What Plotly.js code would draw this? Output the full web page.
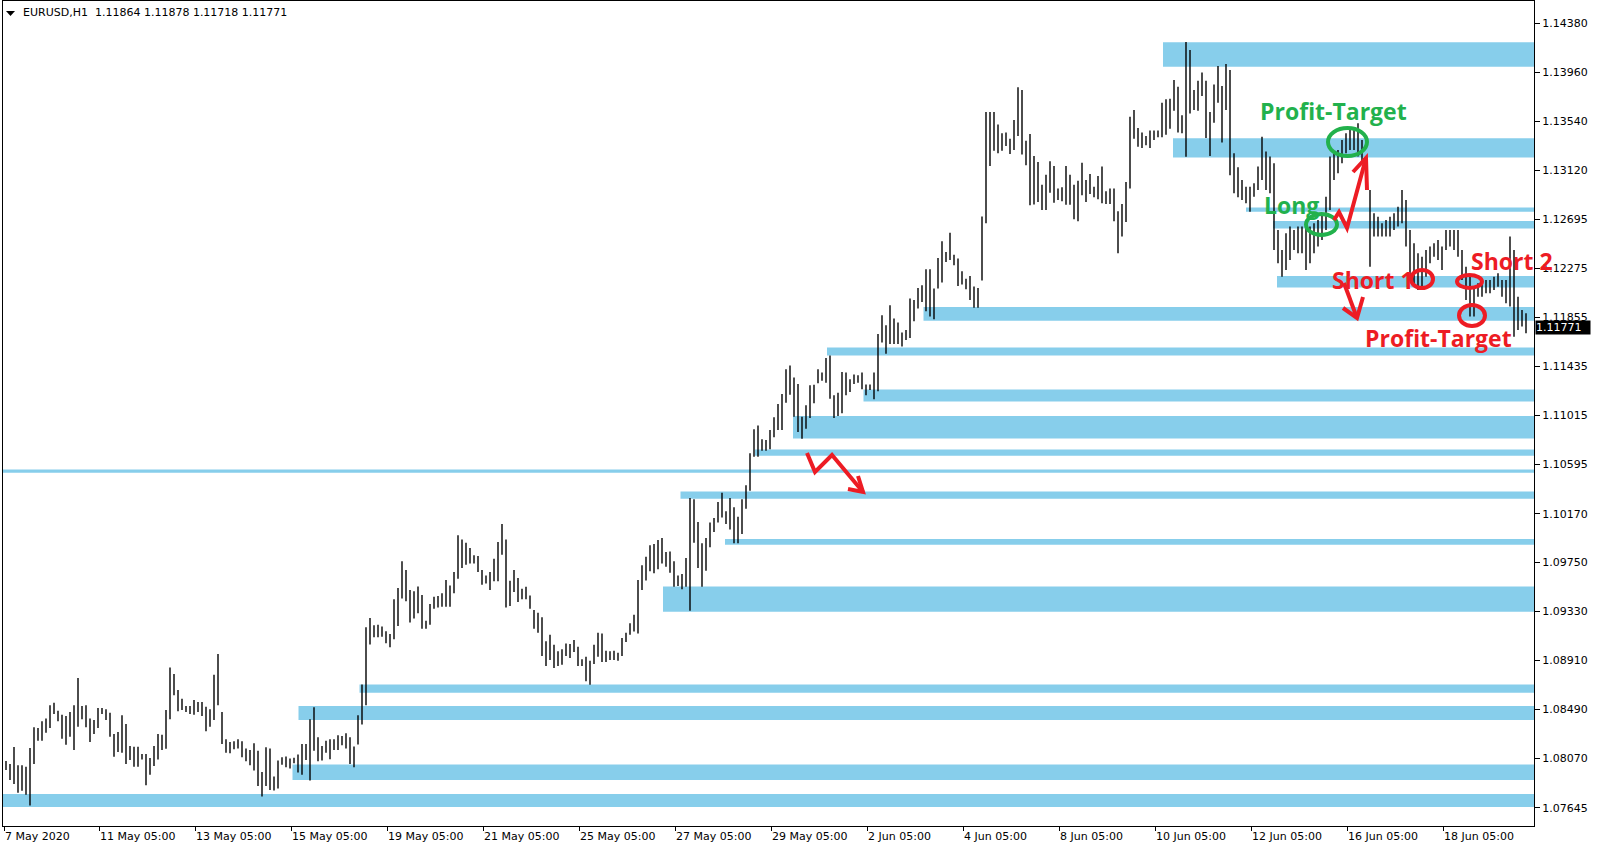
<!DOCTYPE html>
<html><head><meta charset="utf-8">
<script src="https://cdn.plot.ly/plotly-3.0.1.min.js"></script>
<style>html,body{margin:0;padding:0;background:#fff;}#chart{width:1597px;height:850px;}</style>
</head><body><div id="chart"></div>
<script>
// EURUSD H1, read as 2-hour high/low pairs (bar index = hour count from first bar)
const highs = [
1.08046,1.08020,1.08166,1.08009,1.08009,1.07997,1.08158,1.08335,1.08329,1.08387,
1.08410,1.08524,1.08547,1.08478,1.08444,1.08432,1.08467,1.08524,1.08759,1.08518,
1.08524,1.08410,1.08398,1.08501,1.08501,1.08490,1.08461,1.08278,1.08295,1.08438,
1.08364,1.08175,1.08169,1.08169,1.08106,1.08106,1.08072,1.08175,1.08278,1.08272,
1.08484,1.08850,1.08793,1.08656,1.08581,1.08518,1.08518,1.08570,1.08553,1.08553,
1.08513,1.08490,1.08787,1.08965,1.08467,1.08233,1.08210,1.08216,1.08233,1.08216,
1.08153,1.08141,1.08198,1.08135,1.07952,1.08164,1.08153,1.07912,1.08050,1.08078,
1.08084,1.08067,1.08073,1.08101,1.08193,1.08193,1.08405,1.08508,1.08250,1.08176,
1.08221,1.08233,1.08233,1.08267,1.08261,1.08284,1.08250,1.08170,1.08439,1.08702,
1.09194,1.09275,1.09212,1.09217,1.09200,1.09160,1.09137,1.09435,1.09532,1.09761,
1.09687,1.09515,1.09504,1.09544,1.09471,1.09251,1.09394,1.09457,1.09463,1.09486,
1.09600,1.09554,1.09669,1.09984,1.09949,1.09921,1.09875,1.09812,1.09806,1.09686,
1.09640,1.09669,1.09783,1.09926,1.10081,1.09949,1.09594,1.09686,1.09617,1.09526,
1.09543,1.09468,1.09343,1.09320,1.09280,1.09074,1.09131,1.09045,1.08988,1.09005,
1.09056,1.09051,1.09085,1.09028,1.08919,1.08942,1.08907,1.09045,1.09148,1.09142,
1.08993,1.08988,1.08993,1.08976,1.09102,1.09148,1.09228,1.09302,1.09600,1.09726,
1.09801,1.09898,1.09909,1.09944,1.09961,1.09841,1.09846,1.09761,1.09640,1.09652,
1.09789,1.10304,1.10293,1.10098,1.09915,1.09961,1.10093,1.10133,1.10270,1.10350,
1.10190,1.10304,1.10224,1.10144,1.10293,1.10413,1.10688,1.10894,1.10928,1.10808,
1.10802,1.10888,1.10997,1.11111,1.11197,1.11409,1.11443,1.11340,1.11283,1.11003,
1.11100,1.11272,1.11277,1.11409,1.11381,1.11506,1.11529,1.11186,1.11209,1.11387,
1.11381,1.11324,1.11364,1.11358,1.11381,1.11278,1.11278,1.11381,1.11713,1.11874,
1.11788,1.11959,1.11845,1.11811,1.11725,1.11748,1.12017,1.12005,1.12108,1.12131,
1.12269,1.12269,1.12103,1.12366,1.12509,1.12417,1.12583,1.12394,1.12360,1.12251,
1.12188,1.12211,1.12120,1.12108,1.12721,1.13619,1.13619,1.13619,1.13511,1.13436,
1.13442,1.13390,1.13551,1.13831,1.13808,1.13373,1.13430,1.13242,1.13190,1.12995,
1.13081,1.13195,1.13155,1.12961,1.12972,1.13155,1.13081,1.12995,1.13029,1.13184,
1.13035,1.13087,1.12978,1.13069,1.13150,1.12938,1.12961,1.12961,1.12766,1.12829,
1.13018,1.13579,1.13636,1.13482,1.13442,1.13413,1.13459,1.13459,1.13459,1.13699,
1.13728,1.13733,1.13894,1.13836,1.13590,1.14220,1.14151,1.13808,1.13888,1.13957,
1.13888,1.13619,1.13854,1.14014,1.13842,1.14031,1.13980,1.13264,1.13144,1.13035,
1.12978,1.12978,1.13007,1.13150,1.13407,1.13279,1.13236,1.13178,1.12606,1.12434,
1.12577,1.12635,1.12606,1.12635,1.12635,1.12663,1.12635,1.12663,1.12692,1.12749,
1.12892,1.13236,1.13264,1.13293,1.13379,1.13436,1.13465,1.13465,1.13522,1.13379,
1.13236,1.12949,1.12749,1.12720,1.12663,1.12692,1.12720,1.12749,1.12806,1.12949,
1.12864,1.12606,1.12491,1.12405,1.12377,1.12434,1.12463,1.12491,1.12520,1.12463,
1.12606,1.12606,1.12606,1.12606,1.12434,1.12291,1.12205,1.12119,1.12148,1.12148,
1.12177,1.12177,1.12205,1.12234,1.12177,1.12177,1.12549,1.12434,1.12033,1.11919,1.11890
];
const lows = [
1.07969,1.07883,1.07849,1.07774,1.07791,1.07757,1.07663,1.08020,1.08221,1.08221,
1.08289,1.08329,1.08450,1.08387,1.08238,1.08186,1.08255,1.08141,1.08341,1.08404,
1.08335,1.08209,1.08278,1.08329,1.08450,1.08398,1.08255,1.08083,1.08123,1.08118,
1.08020,1.08055,1.07997,1.07997,1.08060,1.07837,1.07929,1.08003,1.08060,1.08141,
1.08152,1.08404,1.08610,1.08473,1.08484,1.08467,1.08450,1.08444,1.08467,1.08432,
1.08301,1.08341,1.08398,1.08524,1.08193,1.08118,1.08113,1.08147,1.08153,1.08078,
1.08044,1.08010,1.07964,1.07832,1.07741,1.07832,1.07798,1.07792,1.07809,1.08015,
1.07992,1.07981,1.08027,1.07947,1.07929,1.08055,1.07878,1.08135,1.08044,1.08050,
1.08118,1.08061,1.08141,1.08141,1.08181,1.08153,1.08021,1.07992,1.08187,1.08359,
1.08525,1.09046,1.09109,1.09109,1.09114,1.09057,1.09023,1.09091,1.09206,1.09441,
1.09418,1.09235,1.09269,1.09315,1.09182,1.09182,1.09217,1.09354,1.09365,1.09371,
1.09371,1.09371,1.09486,1.09612,1.09703,1.09732,1.09743,1.09743,1.09669,1.09560,
1.09571,1.09514,1.09589,1.09589,1.09818,1.09365,1.09377,1.09497,1.09411,1.09434,
1.09434,1.09354,1.09182,1.09148,1.08948,1.08862,1.08913,1.08845,1.08862,1.08873,
1.08948,1.08930,1.08982,1.08862,1.08862,1.08730,1.08701,1.08879,1.08942,1.08896,
1.08896,1.08913,1.08913,1.08908,1.08948,1.09068,1.09131,1.09159,1.09142,1.09514,
1.09595,1.09675,1.09658,1.09692,1.09743,1.09715,1.09663,1.09543,1.09549,1.09520,
1.09543,1.09337,1.09921,1.09703,1.09543,1.09680,1.09881,1.10012,1.10093,1.10138,
1.10081,1.10035,1.09915,1.09915,1.09995,1.10213,1.10367,1.10659,1.10659,1.10711,
1.10711,1.10722,1.10825,1.10888,1.10888,1.11123,1.11192,1.11003,1.10871,1.10814,
1.10900,1.10991,1.11117,1.11289,1.11312,1.11295,1.11157,1.10991,1.11008,1.11032,
1.11187,1.11215,1.11284,1.11295,1.11238,1.11187,1.11232,1.11152,1.11221,1.11639,
1.11542,1.11627,1.11627,1.11627,1.11605,1.11662,1.11679,1.11822,1.11931,1.11988,
1.11908,1.11862,1.11839,1.12103,1.12154,1.12331,1.12349,1.12303,1.12125,1.12137,
1.12097,1.12005,1.11937,1.11937,1.12171,1.12663,1.13156,1.13287,1.13264,1.13287,
1.13327,1.13259,1.13293,1.13413,1.13253,1.13161,1.12818,1.12824,1.12847,1.12778,
1.12778,1.12926,1.12840,1.12863,1.12852,1.12823,1.12823,1.12697,1.12680,1.12903,
1.12846,1.12915,1.12886,1.12869,1.12835,1.12829,1.12829,1.12680,1.12405,1.12549,
1.12674,1.12961,1.13390,1.13321,1.13310,1.13333,1.13310,1.13379,1.13401,1.13401,
1.13424,1.13476,1.13630,1.13442,1.13436,1.13235,1.13607,1.13636,1.13630,1.13756,
1.13396,1.13241,1.13527,1.13699,1.13356,1.13636,1.13075,1.12921,1.12886,1.12864,
1.12835,1.12763,1.12892,1.12949,1.13035,1.12949,1.12921,1.12434,1.12320,1.12205,
1.12263,1.12348,1.12434,1.12406,1.12406,1.12263,1.12320,1.12406,1.12463,1.12520,
1.12606,1.12778,1.13035,1.13092,1.13178,1.13264,1.13293,1.13293,1.13236,1.13178,
1.12949,1.12291,1.12549,1.12549,1.12549,1.12549,1.12549,1.12606,1.12635,1.12663,
1.12463,1.12205,1.12119,1.12091,1.12119,1.12205,1.12320,1.12377,1.12348,1.12262,
1.12434,1.12463,1.12434,1.12377,1.12177,1.12005,1.11862,1.11862,1.12033,1.12033,
1.12062,1.12062,1.12091,1.12119,1.12033,1.11976,1.11948,1.11690,1.11747,1.11776,1.11719
];
// time axis labels (bar index of label)
const tickBars = [-0.5,47,95,143,191,239,287,335,383,431,479,527,575,623,671,719];
const tickLabels = ["7 May 2020","11 May 05:00","13 May 05:00","15 May 05:00","19 May 05:00","21 May 05:00","25 May 05:00","27 May 05:00","29 May 05:00","2 Jun 05:00","4 Jun 05:00","8 Jun 05:00","10 Jun 05:00","12 Jun 05:00","16 Jun 05:00","18 Jun 05:00"];
const priceTicks = [1.14380,1.13960,1.13540,1.13120,1.12695,1.12275,1.11855,1.11435,1.11015,1.10595,1.10170,1.09750,1.09330,1.08910,1.08490,1.08070,1.07645];
// support/resistance zones: start bar, top price, bottom price
const zoneStart  = [579,584,620.5,634,636,459.25,411,429.25,394,375,-1,337.75,360,329,177.25,146.75,143.75,-1];
const zoneTop    = [1.14218,1.13393,1.12799,1.12683,1.12211,1.11945,1.11597,1.11236,1.11009,1.10721,1.10549,1.10360,1.09953,1.09545,1.08703,1.08519,1.08016,1.07763];
const zoneBottom = [1.14007,1.13229,1.12763,1.12619,1.12112,1.11827,1.11527,1.11132,1.10815,1.10668,1.10521,1.10298,1.09904,1.09328,1.08633,1.08398,1.07883,1.07651];
const lastPrice = 1.11771;
const headerText = "EURUSD,H1\u00a0\u00a01.11864 1.11878 1.11718 1.11771";

// ---- layout geometry ----
const W = 1597, H = 850;
const mL = 3, mR = 63, mT = 1, mB = 24;
const xMin = -1, xMax = 764.5;
const yMax = 1.14572, yMin = 1.07488;
const plotW = W - mL - mR, plotH = H - mT - mB;
const pxX = px => xMin + (px - mL) / plotW * (xMax - xMin);
const pxY = py => yMax - (py - mT) / plotH * (yMax - yMin);
const pathPx = (pts, close) => pts.map((p, i) => (i ? 'L' : 'M') + pxX(p[0]) + ',' + pxY(p[1])).join(' ') + (close ? ' Z' : '');

const GREEN = '#22b14c', RED = '#ed1c24', ZONE = '#87ceeb';

const xs = highs.map((_, k) => 2 * k + 0.5);
const trace = {
  type: 'bar', x: xs, base: lows, y: highs.map((h, i) => h - lows[i]),
  width: 0.7, marker: { color: '#000', line: { width: 0 } }, hoverinfo: 'skip'
};

const shapes = [];
zoneStart.forEach((s, i) => shapes.push({
  type: 'rect', xref: 'x', yref: 'y', x0: s, x1: xMax, y0: zoneBottom[i], y1: zoneTop[i],
  fillcolor: ZONE, line: { width: 0 }, layer: 'below'
}));
const ell = (x0, x1, y0, y1, c) => ({ type: 'circle', xref: 'x', yref: 'y', x0: pxX(x0), x1: pxX(x1), y0: pxY(y1), y1: pxY(y0), line: { color: c, width: 4 }, layer: 'above' });
shapes.push(ell(1328, 1367, 128, 156, GREEN));
shapes.push(ell(1306, 1337, 214, 235, GREEN));
shapes.push(ell(1411, 1433, 270, 288, RED));
shapes.push(ell(1457, 1482, 275, 288, RED));
shapes.push(ell(1459, 1485, 305, 326, RED));
const arrow = pts => ({ type: 'path', xref: 'x', yref: 'y', path: pathPx(pts), line: { color: RED, width: 4 }, layer: 'above' });
shapes.push(arrow([[1334, 220], [1339, 212], [1347, 228], [1366, 158]]));
shapes.push(arrow([[1353, 172], [1366, 158], [1367, 190]]));
shapes.push(arrow([[1344, 283], [1357, 318]]));
shapes.push(arrow([[1343, 308], [1357, 318], [1363, 297]]));
shapes.push(arrow([[807, 453], [815, 472], [832, 455], [863, 492]]));
shapes.push(arrow([[848, 489], [863, 492], [858, 476]]));
// header triangle
shapes.push({ type: 'path', xref: 'paper', yref: 'paper',
  path: 'M' + ((6 - mL) / plotW) + ',' + ((H - mB - 11) / plotH) + ' L' + ((15 - mL) / plotW) + ',' + ((H - mB - 11) / plotH) + ' L' + ((10.5 - mL) / plotW) + ',' + ((H - mB - 16) / plotH) + ' Z',
  fillcolor: '#000', line: { width: 0 } });

const bigFont = c => ({ family: 'Open Sans, DejaVu Sans, sans-serif', size: 23, color: c, weight: 700 });
const txt = (t, x, y, c) => ({ text: t, xref: 'x', yref: 'y', x: pxX(x), y: pxY(y), showarrow: false, xanchor: 'center', yanchor: 'middle', font: bigFont(c) });
const annotations = [
  txt('Profit-Target', 1333, 111, GREEN),
  txt('Long', 1291, 205, GREEN),
  txt('Short 1', 1373, 280, RED),
  txt('Short 2', 1512, 261, RED),
  txt('Profit-Target', 1438, 338, RED),
  { text: headerText, xref: 'paper', yref: 'paper', x: (21 - mL) / plotW, y: 1, xanchor: 'left', yanchor: 'top', yshift: -3,
    showarrow: false, font: { family: 'DejaVu Sans', size: 11, color: '#000' } },
  { text: lastPrice.toFixed(5), xref: 'paper', yref: 'y', x: 1, y: lastPrice, xanchor: 'left', yanchor: 'middle', xshift: 1,
    showarrow: false, bgcolor: '#000', borderpad: 0, width: 54, align: 'left',
    font: { family: 'DejaVu Sans', size: 11, color: '#fff' } }
];

const axisFont = { family: 'DejaVu Sans', size: 11, color: '#000' };
const layout = {
  width: W, height: H, margin: { l: mL, r: mR, t: mT, b: mB, pad: 0 },
  paper_bgcolor: '#fff', plot_bgcolor: '#fff', showlegend: false,
  xaxis: { range: [xMin, xMax], tickmode: 'array', tickvals: tickBars, ticktext: tickLabels,
    ticks: 'outside', ticklen: 4, tickcolor: '#000', tickwidth: 1, showgrid: false, zeroline: false,
    showline: true, linecolor: '#000', linewidth: 1, mirror: true, tickfont: axisFont,
    ticklabelposition: 'outside right', fixedrange: true },
  yaxis: { side: 'right', range: [yMin, yMax], tickmode: 'array', tickvals: priceTicks,
    ticktext: priceTicks.map(v => v.toFixed(5)), ticks: 'outside', ticklen: 5, tickcolor: '#000',
    showgrid: false, zeroline: false, showline: true, linecolor: '#000', linewidth: 1, mirror: true,
    tickfont: axisFont, fixedrange: true },
  shapes: shapes, annotations: annotations
};
Plotly.newPlot('chart', [trace], layout, { staticPlot: true, displayModeBar: false });
</script>
</body></html>
